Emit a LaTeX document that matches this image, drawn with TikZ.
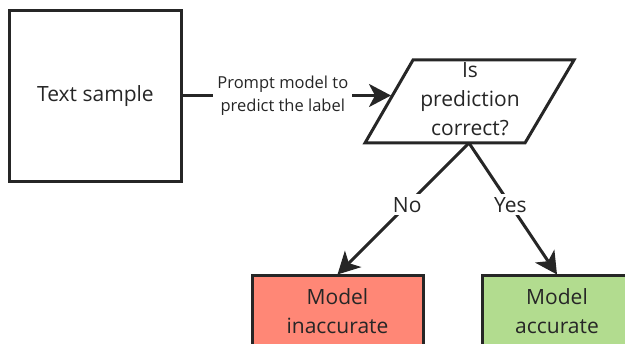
\documentclass[tikz,border=0pt]{standalone}
\usepackage{fontspec}
\setmainfont{Open Sans}
\usetikzlibrary{arrows.meta}
\definecolor{ink}{HTML}{262626}
\definecolor{redfill}{HTML}{FF8776}
\definecolor{greenfill}{HTML}{B2DC8F}
\begin{document}
\begin{tikzpicture}[x=1pt,y=-1pt,
  box/.style={draw=ink, line width=3pt, rectangle, align=center, text=ink,
    font=\fontsize{21}{29}\selectfont, inner sep=0pt},
  conn/.style={draw=ink, line width=3pt, -{Stealth[length=22pt,width=23pt,inset=6pt]}},
  lbl/.style={fill=white, text=ink, align=center, inner sep=4pt},
  big/.style={font=\fontsize{21}{29}\selectfont},
  small/.style={font=\fontsize{16.5}{23}\selectfont}]
\useasboundingbox (0,0) rectangle (625,344);
% Text sample box
\node[box, minimum width=172pt, minimum height=171pt] (ts) at (95.5,96.5) {Text sample};
% decision parallelogram
\draw[draw=ink, line width=3pt, line join=miter, fill=white] (413,60) -- (574,60) -- (525,143) -- (365,143) -- cycle;
\node[box, draw=none] (q) at (470,99) {Is\\prediction\\correct?};
\coordinate (qin) at (391,95.5);
\coordinate (qbot) at (469,143);
% result boxes
\node[box, fill=redfill, minimum width=171pt, minimum height=71pt] (bad) at (337.5,311.5) {Model\\inaccurate};
\node[box, fill=greenfill, minimum width=150pt, minimum height=71pt] (good) at (557,311.5) {Model\\accurate};
% connectors
\draw[conn] (ts.east |- qin) -- node[lbl, small, pos=0.48]{Prompt model to\\predict the label} (qin);
\draw[conn] (qbot) -- node[lbl, big, pos=0.47, inner sep=3pt]{No} (bad.north);
\draw[conn] (qbot) -- node[lbl, big, pos=0.47, inner sep=3pt]{Yes} (good.north);
\end{tikzpicture}
\end{document}
